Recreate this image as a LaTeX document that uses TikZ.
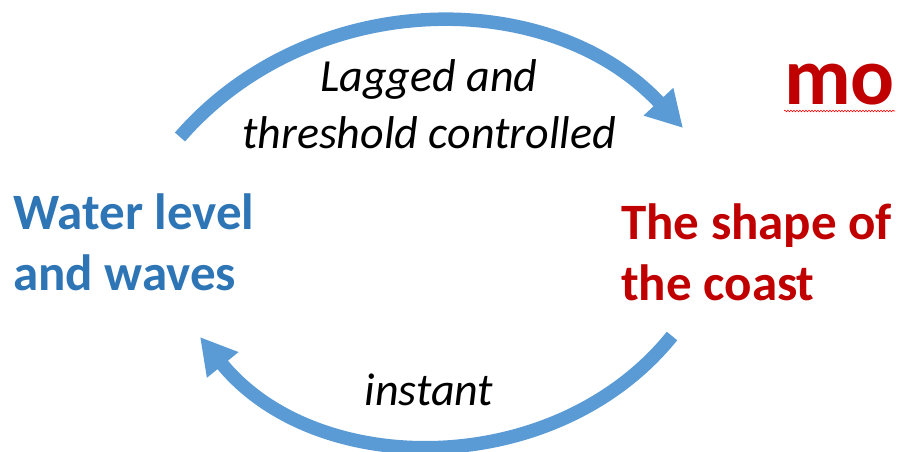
\documentclass[tikz,border=0pt]{standalone}
\usepackage{fontspec}
\setmainfont{Carlito}
\usetikzlibrary{arrows.meta,decorations.pathmorphing}
\definecolor{waterblue}{HTML}{2E75B6}
\definecolor{arrowblue}{HTML}{5B9BD5}
\definecolor{coastred}{HTML}{C00000}

\begin{document}
\begin{tikzpicture}[x=1pt,y=1pt]
  \tikzset{state/.style = {font=\fontsize{51}{61}\selectfont\bfseries, align=left, inner sep=0pt}}
  \tikzset{lag/.style = {font=\fontsize{46}{58}\selectfont\itshape, align=center, inner sep=0pt}}
  \tikzset{flow/.style = {draw=arrowblue, line width=13.5pt, -{Triangle[length=36pt,width=38pt]}}}

  \useasboundingbox (0,0) rectangle (898,451);

	\node[state, text=waterblue, anchor=base west] (WL) at (13,161) {Water level\\and waves};
	\node[state, text=coastred, anchor=base west] (SC) at (621,151) {The shape of\\the coast};
	\node[state, text=coastred, anchor=base west, font=\fontsize{82}{90}\selectfont\bfseries] (MO) at (784,346) {mo};

	\node[lag, anchor=base] (LT) at (429,302) {Lagged and\\threshold controlled};
	\node[lag, anchor=base] (IN) at (429,46) {instant};

	\coordinate (topstart) at (180,314);
	\coordinate (topend) at (683,323);
	\coordinate (botstart) at (672,115);
	\coordinate (botend) at (200,114);

	\draw[flow] (topstart) to[bend left=48] (topend);
	\draw[flow] (botstart) to[bend left=51] (botend);

	% spelling mark under mo
	\draw[red, line width=0.6pt, decorate, decoration={snake, amplitude=0.8pt, segment length=3pt}]
	  ([yshift=-6pt]MO.base west) -- ([yshift=-6pt]MO.base east);
\end{tikzpicture}
\end{document}
